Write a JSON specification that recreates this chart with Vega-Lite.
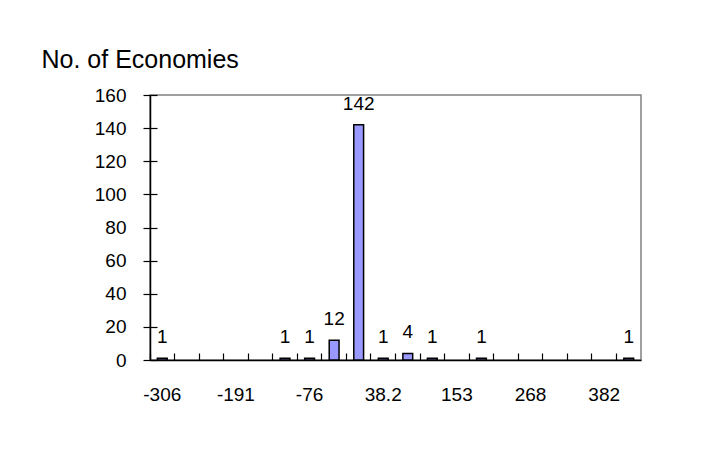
{
  "$schema": "https://vega.github.io/schema/vega-lite/v6.json",
  "width": 491,
  "height": 265,
  "autosize": {"type": "none"},
  "padding": {"left": 150, "top": 95, "right": 70, "bottom": 104},
  "background": "white",
  "config": {
    "view": {"stroke": "#808080", "strokeWidth": 1.5},
    "font": "Liberation Sans",
    "axis": {
      "labelFont": "Liberation Sans",
      "labelColor": "black",
      "titleFont": "Liberation Sans",
      "titleColor": "black",
      "grid": false,
      "domainColor": "black",
      "tickColor": "black",
      "domainWidth": 1.5,
      "tickWidth": 1.2
    }
  },
  "data": {
    "values": [
      {"bin": "-306", "count": 1},
      {"bin": "-268", "count": 0},
      {"bin": "-229", "count": 0},
      {"bin": "-191", "count": 0},
      {"bin": "-153", "count": 0},
      {"bin": "-115", "count": 1},
      {"bin": "-76", "count": 1},
      {"bin": "-38", "count": 12},
      {"bin": "0", "count": 142},
      {"bin": "38.2", "count": 1},
      {"bin": "76.4", "count": 4},
      {"bin": "115", "count": 1},
      {"bin": "153", "count": 0},
      {"bin": "191", "count": 1},
      {"bin": "229", "count": 0},
      {"bin": "268", "count": 0},
      {"bin": "306", "count": 0},
      {"bin": "344", "count": 0},
      {"bin": "382", "count": 0},
      {"bin": "421", "count": 1}
    ]
  },
  "layer": [
    {
      "transform": [{"filter": "datum.count > 0"}],
      "mark": {"type": "bar", "fill": "#9999FF", "stroke": "black", "strokeWidth": 1.5},
      "encoding": {
        "x": {
          "field": "bin",
          "type": "ordinal",
          "sort": null,
          "scale": {
            "domain": ["-306", "-268", "-229", "-191", "-153", "-115", "-76", "-38", "0", "38.2", "76.4", "115", "153", "191", "229", "268", "306", "344", "382", "421"],
            "paddingInner": 0.6,
            "paddingOuter": 0.3
          },
          "axis": {
            "orient": "bottom",
            "values": ["-306", "-191", "-76", "38.2", "153", "268", "382"],
            "ticks": false,
            "tickSize": 0,
            "labelAngle": 0,
            "labelFontSize": 19,
            "labelPadding": 25,
            "title": null
          }
        },
        "y": {
          "field": "count",
          "type": "quantitative",
          "scale": {"domain": [0, 160]},
          "axis": {
            "orient": "left",
            "values": [0, 20, 40, 60, 80, 100, 120, 140, 160],
            "tickSize": 7,
            "labelPadding": 17,
            "labelFontSize": 19,
            "title": "No. of Economies",
            "titleAngle": 0,
            "titleAlign": "left",
            "titleBaseline": "alphabetic",
            "titleX": -109,
            "titleY": -28,
            "titleFontSize": 25,
            "titleFontWeight": "normal"
          }
        }
      }
    },
    {
      "transform": [{"filter": "datum.count > 0"}],
      "mark": {"type": "text", "dy": -15, "fontSize": 19, "baseline": "alphabetic", "color": "black"},
      "encoding": {
        "x": {
          "field": "bin",
          "type": "ordinal",
          "sort": null,
          "axis": {
            "orient": "bottom",
            "offset": -7,
            "tickSize": 7,
            "labels": false,
            "domain": false,
            "bandPosition": -0.75,
            "title": null
          }
        },
        "y": {
          "field": "count",
          "type": "quantitative",
          "axis": {
            "orient": "left",
            "offset": -7,
            "tickSize": 7,
            "labels": false,
            "domain": false,
            "values": [0, 20, 40, 60, 80, 100, 120, 140, 160],
            "title": null
          }
        },
        "text": {"field": "count", "type": "quantitative"}
      }
    }
  ],
  "resolve": {"axis": {"x": "independent", "y": "independent"}}
}
